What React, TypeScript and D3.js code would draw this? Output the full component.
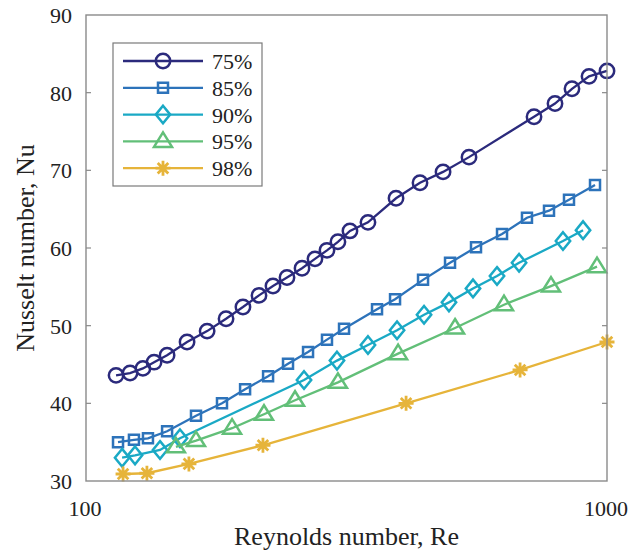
import React from "react";
import * as d3 from "d3";

const seriesNames = ["75%", "85%", "90%", "95%", "98%"];
const seriesColors = ["#2b2a7c", "#2d73ba", "#1aa9c5", "#62bf78", "#e6b43a"];
const seriesMarkers = ["circle", "square", "diamond", "triangle", "asterisk"];

const re75 = [114.2, 121.5, 128.6, 135.1, 143.1, 156.3, 170.8, 185.7, 200.1, 214.8, 228.5, 243.1, 259.8, 275.1, 290.1, 304.5, 321.1, 347.7, 393.6, 437.6, 484.5, 543.4, 724.3, 794.7, 856.6, 923.6, 1000];
const nu75 = [43.6, 43.9, 44.5, 45.3, 46.2, 47.9, 49.3, 50.9, 52.4, 53.9, 55.1, 56.2, 57.4, 58.6, 59.7, 60.8, 62.2, 63.3, 66.4, 68.4, 69.8, 71.7, 76.9, 78.6, 80.5, 82.1, 82.8];

const re85 = [115.2, 123.6, 131.5, 143.1, 162.6, 182.4, 202.0, 223.6, 244.2, 266.8, 290.1, 312.8, 361.9, 391.9, 443.5, 499.7, 560.5, 628.8, 702.1, 773.9, 845.4, 948.4];
const nu85 = [35.0, 35.3, 35.5, 36.4, 38.4, 40.0, 41.8, 43.5, 45.1, 46.6, 48.2, 49.6, 52.1, 53.4, 55.9, 58.1, 60.1, 61.8, 63.9, 64.8, 66.2, 68.1];

const re90 = [117.3, 124.2, 138.7, 151.5, 262.1, 303.2, 347.7, 395.4, 445.5, 497.4, 553.1, 615.0, 678.0, 823.2, 899.5];
const nu90 = [33.0, 33.3, 34.0, 35.5, 43.0, 45.5, 47.5, 49.4, 51.4, 53.0, 54.8, 56.4, 58.1, 60.9, 62.3];

const re95 = [148.8, 162.6, 190.7, 219.6, 251.9, 304.5, 397.2, 510.9, 634.3, 780.7, 956.8];
const nu95 = [34.4, 35.2, 36.8, 38.6, 40.4, 42.7, 46.4, 49.7, 52.7, 55.1, 57.6];

const re98 = [117.8, 130.9, 157.6, 218.6, 411.5, 681.0, 1000];
const nu98 = [30.9, 31.0, 32.2, 34.6, 40.0, 44.3, 47.9];

const reSeries = [re75, re85, re90, re95, re98];
const nuSeries = [nu75, nu85, nu90, nu95, nu98];

const yTicks = [30, 40, 50, 60, 70, 80, 90];
const xTicks = [100, 1000];

const W = 632, H = 556;
const L = 86, R = 607, T = 15, B = 481;
const FONT = "'Liberation Serif', 'Times New Roman', serif";

function markerPath(kind: string): string {
  switch (kind) {
    case "circle": {
      const r = 7.2;
      return `M${-r},0A${r},${r} 0 1,0 ${r},0A${r},${r} 0 1,0 ${-r},0Z`;
    }
    case "square": {
      const s = 5;
      return `M${-s},${-s}H${s}V${s}H${-s}Z`;
    }
    case "diamond": {
      const w = 7.2, h = 8.8;
      return `M0,${-h}L${w},0L0,${h}L${-w},0Z`;
    }
    case "triangle": {
      const w = 9, h = 14.5;
      return `M0,${-h * 0.62}L${w},${h * 0.38}L${-w},${h * 0.38}Z`;
    }
    case "asterisk": {
      const a = 7.5, d = 5.3;
      return `M0,${-a}V${a}M${-a},0H${a}M${-d},${-d}L${d},${d}M${-d},${d}L${d},${-d}`;
    }
  }
  return "";
}

export default function App() {
  const x = d3.scaleLog().domain([100, 1000]).range([L, R]);
  const y = d3.scaleLinear().domain([30, 90]).range([B, T]);
  const line = d3.line<[number, number]>().x((d) => x(d[0])).y((d) => y(d[1]));

  const legendRows = seriesNames.map((n, i) => ({ n, i, cy: 61 + i * 26.8 }));

  return (
    <svg width={W} height={H} style={{ position: "absolute", left: 0, top: 0, background: "#fff" }}>
      <rect x={0} y={0} width={W} height={H} fill="#fff" />
      {reSeries.map((xs, i) => {
        const pts: [number, number][] = xs.map((v, j) => [v, nuSeries[i][j]]);
        const col = seriesColors[i];
        const mp = markerPath(seriesMarkers[i]);
        return (
          <g key={i}>
            <path d={line(pts) || ""} fill="none" stroke={col} strokeWidth={2.3} />
            {pts.map((p, j) => (
              <path key={j} d={mp} transform={`translate(${x(p[0])},${y(p[1])})`}
                fill="none" stroke={col} strokeWidth={seriesMarkers[i] === "asterisk" ? 2.8 : 2.5} />
            ))}
          </g>
        );
      })}
      <rect x={L} y={T} width={R - L} height={B - T} fill="none" stroke="#8a8a8a" strokeWidth={1.4} />
      {yTicks.slice(1, -1).map((t) => (
        <g key={t}>
          <line x1={L} x2={L + 5} y1={y(t)} y2={y(t)} stroke="#8a8a8a" strokeWidth={1.2} />
          <line x1={R} x2={R - 5} y1={y(t)} y2={y(t)} stroke="#8a8a8a" strokeWidth={1.2} />
        </g>
      ))}
      {yTicks.map((t) => (
        <text key={t} x={72} y={y(t) + 8} textAnchor="end" fontFamily={FONT} fontSize={22} fill="#222">{t}</text>
      ))}
      {xTicks.map((t) => (
        <text key={t} x={x(t) - 1} y={516} textAnchor="middle" fontFamily={FONT} fontSize={22} fill="#222">{t}</text>
      ))}
      <text x={(L + R) / 2} y={545} textAnchor="middle" fontFamily={FONT} fontSize={26} fill="#222">Reynolds number, Re</text>
      <text transform={`translate(34,${(T + B) / 2}) rotate(-90)`} textAnchor="middle" fontFamily={FONT} fontSize={26} fill="#222">Nusselt number, Nu</text>
      <rect x={113} y={43} width={149} height={143} fill="#fff" stroke="#7a7a7a" strokeWidth={1.2} />
      {legendRows.map((r) => (
        <g key={r.n}>
          <line x1={123} x2={203} y1={r.cy} y2={r.cy} stroke={seriesColors[r.i]} strokeWidth={2.3} />
          <path d={markerPath(seriesMarkers[r.i])} transform={`translate(163,${r.cy})`} fill="none"
            stroke={seriesColors[r.i]} strokeWidth={seriesMarkers[r.i] === "asterisk" ? 2.8 : 2.5} />
          <text x={212} y={r.cy + 8} fontFamily={FONT} fontSize={22} fill="#222">{r.n}</text>
        </g>
      ))}
    </svg>
  );
}
